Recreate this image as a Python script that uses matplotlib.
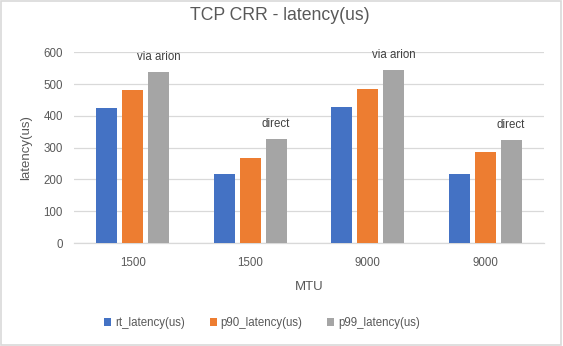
import numpy as np
import matplotlib
matplotlib.use('Agg')
from matplotlib import pyplot as plt
from matplotlib.patches import Rectangle

# values
mtu = ['1500', '1500', '9000', '9000']
rt_latency = [425, 217, 428, 217]
p90_latency = [481, 267, 484, 286]
p99_latency = [538, 327, 544, 324]
notes = ['via arion', 'direct', 'via arion', 'direct']
series_names = ['rt_latency(us)', 'p90_latency(us)', 'p99_latency(us)']
yticks = [0, 100, 200, 300, 400, 500, 600]

colors = ['#4472C4', '#ED7D31', '#A5A5A5']
text_color = '#595959'
grid_color = '#D9D9D9'

plt.rcParams['font.family'] = ['Liberation Sans', 'DejaVu Sans']

fig = plt.figure(figsize=(5.63, 3.46), dpi=100)
ax = fig.add_axes([74 / 563, 1 - 243 / 346, 470 / 563, 190.7 / 346])

x = np.arange(len(mtu))
width = 0.18
step = 0.22
bars = []
for i, (vals, name) in enumerate(zip([rt_latency, p90_latency, p99_latency], series_names)):
    b = ax.bar(x + (i - 1) * step, vals, width, color=colors[i], label=name, zorder=3)
    bars.append(b)

# notes above the p99 bars
for xi, val, note in zip(x, p99_latency, notes):
    ax.annotate(note, xy=(xi + step, val), xytext=(0, 11), textcoords='offset points',
                ha='center', va='center', fontsize=8.3, color='#404040')

ax.set_xlim(-0.5, len(mtu) - 0.5)
ax.set_ylim(0, 600)
ax.set_yticks(yticks)
ax.set_xticks(x)
ax.set_xticklabels(mtu)
ax.tick_params(length=0, labelsize=8.3, labelcolor=text_color)
ax.tick_params(axis='x', pad=10)
ax.tick_params(axis='y', pad=8)
ax.grid(axis='y', color=grid_color, linewidth=0.9, zorder=0)
for side in ['top', 'right', 'left']:
    ax.spines[side].set_visible(False)
ax.spines['bottom'].set_color(grid_color)
ax.spines['bottom'].set_linewidth(0.9)

ax.set_xlabel('MTU', fontsize=9.5, color=text_color, labelpad=9)
ax.set_ylabel('latency(us)', fontsize=9.5, color=text_color, labelpad=8)
fig.text(280 / 563, 1 - 16 / 346, 'TCP CRR - latency(us)', ha='center', va='center',
         fontsize=12.7, color=text_color)

fig.legend(handles=bars, loc='center', bbox_to_anchor=(262 / 563, 1 - 323 / 346), ncol=3,
           frameon=False, fontsize=8.3, handlelength=0.6, handleheight=0.6,
           handletextpad=0.3, columnspacing=2.2, labelcolor=text_color)

# light border round the chart area
fig.patches.append(Rectangle((1 / 563, 1 / 346), 560 / 563, 344 / 346, transform=fig.transFigure,
                             fill=False, edgecolor='#D9D9D9', linewidth=1.2))

fig.savefig('out.png', dpi=100)
